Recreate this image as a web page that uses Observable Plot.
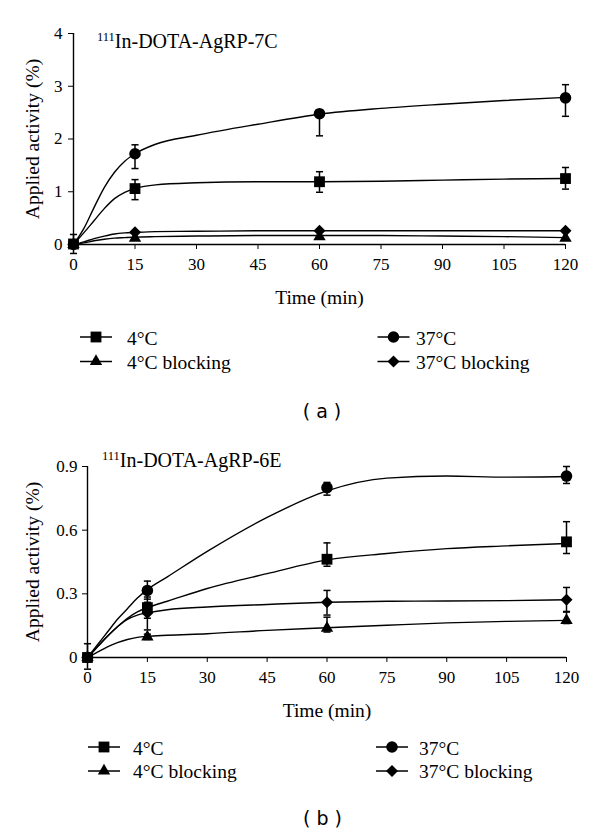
<!DOCTYPE html>
<html>
<head>
<meta charset="utf-8">
<script src="https://cdn.jsdelivr.net/npm/d3@7"></script>
<script src="https://cdn.jsdelivr.net/npm/@observablehq/plot@0.6"></script>
<style>
  html, body { margin: 0; padding: 0; background: #fff; }
  #page { position: relative; width: 600px; height: 834px; overflow: hidden; background: #fff; }
  #page > svg { position: absolute; left: 0; }
  #panelA { top: 0; }
  #panelB { top: 400px; }
  #overlay { position: absolute; left: 0; top: 0; pointer-events: none; }
  #panelA text, #panelB text { font-family: 'Liberation Serif', 'Times New Roman', serif; font-size: 17px; font-variant: normal; }
  #panelA [aria-label="x-axis label"] text, #panelA [aria-label="y-axis label"] text,
  #panelB [aria-label="x-axis label"] text, #panelB [aria-label="y-axis label"] text { font-size: 19.5px; }
</style>
</head>
<body>
<div id="page"></div>
<script>
// ---------- shared labels ----------
const xTicks = [0, 15, 30, 45, 60, 75, 90, 105, 120];
const aYTicks = [0, 1, 2, 3, 4];
const bYTicks = [0, 0.3, 0.6, 0.9];
const seriesNames = ["4°C", "4°C blocking", "37°C", "37°C blocking"];
const sampleTimes = [0, 15, 60, 120];
const fitTimes = [0, 2.5, 5, 7.5, 10, 12.5, 15, 20, 30, 45, 60, 75, 90, 105, 120];

// ---------- panel (a): 111In-DOTA-AgRP-7C ----------
const aTitle = "In-DOTA-AgRP-7C";
const a4C      = [0.01, 1.06, 1.19, 1.25];
const a4C_lo   = [-0.17, 0.85, 0.99, 1.05];
const a4C_hi   = [0.19, 1.23, 1.38, 1.46];
const a4CB     = [0, 0.12, 0.15, 0.12];
const a4CB_lo  = [0, 0.12, 0.15, 0.12];
const a4CB_hi  = [0, 0.12, 0.15, 0.12];
const a37C     = [0, 1.72, 2.48, 2.78];
const a37C_lo  = [0, 1.44, 2.06, 2.43];
const a37C_hi  = [0, 1.89, 2.52, 3.03];
const a37CB    = [0, 0.23, 0.26, 0.26];
const a37CB_lo = [0, 0.23, 0.26, 0.26];
const a37CB_hi = [0, 0.23, 0.26, 0.26];
// fitted curves (at fitTimes)
const aFit4C   = [0, 0.22, 0.45, 0.68, 0.87, 0.99, 1.06, 1.13, 1.17, 1.19, 1.19, 1.20, 1.22, 1.24, 1.25];
const aFit4CB  = [0, 0.03, 0.07, 0.10, 0.12, 0.13, 0.14, 0.15, 0.16, 0.17, 0.17, 0.17, 0.16, 0.15, 0.13];
const aFit37C  = [0, 0.30, 0.70, 1.08, 1.37, 1.58, 1.72, 1.90, 2.07, 2.28, 2.47, 2.58, 2.66, 2.73, 2.79];
const aFit37CB = [0, 0.05, 0.11, 0.16, 0.20, 0.22, 0.23, 0.245, 0.25, 0.26, 0.26, 0.26, 0.26, 0.26, 0.26];

// ---------- panel (b): 111In-DOTA-AgRP-6E ----------
const bTitle = "In-DOTA-AgRP-6E";
const b4C      = [0, 0.235, 0.463, 0.545];
const b4C_lo   = [-0.055, 0.185, 0.43, 0.49];
const b4C_hi   = [0.065, 0.285, 0.54, 0.64];
const b4CB     = [0, 0.097, 0.138, 0.175];
const b4CB_lo  = [0, 0.085, 0.12, 0.16];
const b4CB_hi  = [0, 0.11, 0.19, 0.214];
const b37C     = [0, 0.316, 0.80, 0.855];
const b37C_lo  = [0, 0.275, 0.765, 0.82];
const b37C_hi  = [0, 0.36, 0.825, 0.90];
const b37CB    = [0, 0.21, 0.26, 0.272];
const b37CB_lo = [0, 0.13, 0.20, 0.217];
const b37CB_hi = [0, 0.26, 0.316, 0.33];
const bFit4C   = [0, 0.05, 0.10, 0.145, 0.185, 0.215, 0.235, 0.265, 0.325, 0.395, 0.46, 0.49, 0.513, 0.526, 0.537];
const bFit4CB  = [0, 0.025, 0.05, 0.07, 0.085, 0.095, 0.10, 0.105, 0.112, 0.128, 0.14, 0.152, 0.163, 0.17, 0.175];
const bFit37C  = [0, 0.06, 0.12, 0.18, 0.23, 0.28, 0.32, 0.38, 0.50, 0.66, 0.785, 0.845, 0.855, 0.85, 0.853];
const bFit37CB = [0, 0.05, 0.10, 0.145, 0.18, 0.20, 0.21, 0.225, 0.238, 0.25, 0.26, 0.265, 0.266, 0.268, 0.272];

// ---------- helpers ----------
const symbolBySeries = {
  "4°C": {sym: d3.symbolSquare, r: 6.1},
  "4°C blocking": {sym: d3.symbolTriangle, r: 4.6},
  "37°C": {sym: d3.symbolCircle, r: 5.8},
  "37°C blocking": {sym: d3.symbolDiamond2, r: 5.4}
};
const capSymbol = {
  draw(context, size) {
    const w = Math.sqrt(size) / 2;
    context.moveTo(-w, 0);
    context.lineTo(w, 0);
  }
};

function buildPoints(vals, los, his) {
  const rows = [];
  seriesNames.forEach((s, i) => {
    sampleTimes.forEach((t, j) => {
      rows.push({series: s, t, v: vals[i][j], lo: los[i][j], hi: his[i][j]});
    });
  });
  return rows;
}
function buildFits(fits) {
  const rows = [];
  seriesNames.forEach((s, i) => {
    fitTimes.forEach((t, j) => rows.push({series: s, t, v: fits[i][j]}));
  });
  return rows;
}

function panel({points, fits, yDomain, yTicks, height, marginLeft, marginRight, marginTop, marginBottom, yLabelOffset, yTickPadding}) {
  const errs = points.filter(d => d.hi > d.lo);
  const caps = [];
  points.forEach(d => {
    if (d.lo < d.v) caps.push({t: d.t, y: d.lo});
    if (d.hi > d.v) caps.push({t: d.t, y: d.hi});
  });
  return Plot.plot({
    width: 600,
    height, marginLeft, marginRight, marginTop, marginBottom,
    style: {fontFamily: "'Liberation Serif', 'Times New Roman', serif", fontSize: "17px", color: "#000", background: "transparent", overflow: "visible"},
    x: {domain: [0, 120], ticks: xTicks, tickSize: 5, tickPadding: 8, label: "Time (min)", labelArrow: "none", labelAnchor: "center", labelOffset: 59},
    y: {domain: yDomain, ticks: yTicks, tickSize: 5, tickPadding: yTickPadding, tickFormat: d => String(d), label: "Applied activity (%)", labelArrow: "none", labelAnchor: "center", labelOffset: yLabelOffset},
    marks: [
      Plot.ruleX([0], {stroke: "#000", strokeWidth: 1.4}),
      Plot.ruleY([0], {stroke: "#000", strokeWidth: 1.4}),
      Plot.line(fits, {x: "t", y: "v", z: "series", curve: "monotone-x", stroke: "#000", strokeWidth: 1.4}),
      Plot.ruleX(errs, {x: "t", y1: "lo", y2: "hi", stroke: "#000", strokeWidth: 1.5}),
      Plot.dot(caps, {x: "t", y: "y", symbol: capSymbol, r: 4, fill: "none", stroke: "#000", strokeWidth: 1.5}),
      ...seriesNames.map(s => Plot.dot(points.filter(d => d.series === s), {
        x: "t", y: "v", symbol: symbolBySeries[s].sym, r: symbolBySeries[s].r, fill: "#000", stroke: "none"
      }))
    ]
  });
}

const page = document.getElementById("page");

const svgA = panel({
  points: buildPoints([a4C, a4CB, a37C, a37CB], [a4C_lo, a4CB_lo, a37C_lo, a37CB_lo], [a4C_hi, a4CB_hi, a37C_hi, a37CB_hi]),
  fits: buildFits([aFit4C, aFit4CB, aFit37C, aFit37CB]),
  yDomain: [0, 4], yTicks: aYTicks,
  height: 310, marginLeft: 73, marginRight: 35, marginTop: 33, marginBottom: 66,
  yLabelOffset: 48, yTickPadding: 6
});
svgA.id = "panelA";
page.appendChild(svgA);

const svgB = panel({
  points: buildPoints([b4C, b4CB, b37C, b37CB], [b4C_lo, b4CB_lo, b37C_lo, b37CB_lo], [b4C_hi, b4CB_hi, b37C_hi, b37CB_hi]),
  fits: buildFits([bFit4C, bFit4CB, bFit37C, bFit37CB]),
  yDomain: [0, 0.9], yTicks: bYTicks,
  height: 320, marginLeft: 87, marginRight: 34, marginTop: 66, marginBottom: 63,
  yLabelOffset: 62, yTickPadding: 5
});
svgB.id = "panelB";
page.appendChild(svgB);

// ---------- titles, legends, captions ----------
const ov = d3.select(page).append("svg")
  .attr("id", "overlay").attr("width", 600).attr("height", 834)
  .style("font-family", "'Liberation Serif', 'Times New Roman', serif");

function title(x, baseline, main) {
  const t = ov.append("text").attr("x", x).attr("y", baseline).attr("fill", "#000");
  t.append("tspan").attr("font-size", 12.5).attr("dy", -6.5).text("111");
  t.append("tspan").attr("font-size", 20).attr("dy", 6.5).text(main);
}
title(97, 47.5, aTitle);
title(102, 466.5, bTitle);

function legend(rows) {
  rows.forEach(({s, sx, tx, cy, by}) => {
    const g = ov.append("g");
    g.append("line").attr("x1", sx - 16).attr("x2", sx + 16).attr("y1", cy).attr("y2", cy)
      .attr("stroke", "#000").attr("stroke-width", 1.5);
    const spec = symbolBySeries[s];
    g.append("path").attr("transform", `translate(${sx},${cy})`)
      .attr("d", d3.symbol(spec.sym, Math.PI * spec.r * spec.r)()).attr("fill", "#000");
    g.append("text").attr("x", tx).attr("y", by).attr("font-size", 19.5).attr("fill", "#000").text(s);
  });
}
legend([
  {s: seriesNames[0], sx: 96, tx: 127, cy: 337, by: 345},
  {s: seriesNames[1], sx: 96, tx: 127, cy: 361.5, by: 368.5},
  {s: seriesNames[2], sx: 393.5, tx: 416, cy: 337, by: 345},
  {s: seriesNames[3], sx: 393.5, tx: 416, cy: 361.5, by: 368.5}
]);
legend([
  {s: seriesNames[0], sx: 104, tx: 133, cy: 747, by: 754.5},
  {s: seriesNames[1], sx: 104, tx: 133, cy: 771, by: 777.5},
  {s: seriesNames[2], sx: 392, tx: 419, cy: 747, by: 754.5},
  {s: seriesNames[3], sx: 392, tx: 419, cy: 771, by: 777.5}
]);

function caption(x, baseline, txt) {
  ov.append("text").attr("x", x).attr("y", baseline).attr("text-anchor", "middle")
    .attr("font-family", "'DejaVu Sans', Verdana, sans-serif").attr("font-size", 19)
    .attr("fill", "#000").text(txt);
}
caption(322, 418, "( a )");
caption(322.5, 825, "( b )");
</script>
</body>
</html>
